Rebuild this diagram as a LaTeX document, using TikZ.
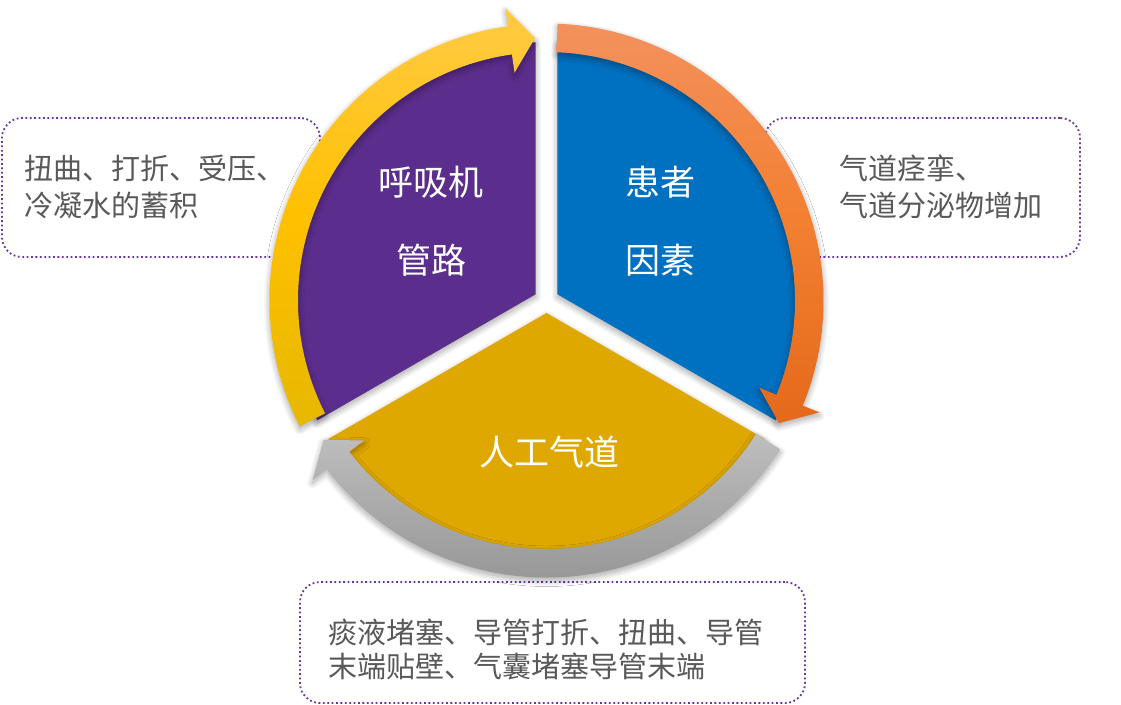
\documentclass[tikz,border=0pt]{standalone}
\usepackage{fontspec}
\newfontfamily\cjk{Noto Sans CJK SC}
\usetikzlibrary{shadows.blur}
\definecolor{ventpurple}{HTML}{5B2D8C}
\definecolor{patblue}{HTML}{0070C0}
\definecolor{airgold}{HTML}{DFA800}
\definecolor{boxline}{HTML}{6A35A0}
\definecolor{notegray}{HTML}{595959}
\definecolor{gold1}{HTML}{FFCB45}
\definecolor{gold2}{HTML}{FFC000}
\definecolor{gold3}{HTML}{E6B800}
\definecolor{orange1}{HTML}{F3915D}
\definecolor{orange2}{HTML}{F37F30}
\definecolor{orange3}{HTML}{E4691B}
\definecolor{gray1}{HTML}{BEBEBE}
\definecolor{gray2}{HTML}{AAAAAA}
\definecolor{gray3}{HTML}{979797}
\begin{document}
\begin{tikzpicture}[x=1pt,y=1pt,line join=round,font=\cjk,
	callout/.style={draw=boxline,fill=white,line width=1.8pt,dash pattern=on 1.8pt off 2.6pt,rounded corners=20pt},
	note/.style={text=notegray,align=left,anchor=west,inner sep=0pt,font=\cjk\fontsize{29}{37}\selectfont},
	wedgetext/.style={text=white,align=center,inner sep=0pt,font=\cjk\fontsize{35}{78}\selectfont},
	soft/.style={blur shadow={shadow xshift=0pt,shadow yshift=-3pt,shadow blur radius=6pt,shadow blur steps=10,shadow opacity=35}}]
	\useasboundingbox (0,0) rectangle (1121,-704);
	\node[callout,minimum width=318pt,minimum height=139pt] (ventbox) at (161,-187.5) {};
	\node[callout,minimum width=315pt,minimum height=139pt] (patbox) at (922.5,-187.5) {};
	\node[callout,minimum width=505pt,minimum height=121pt] (airbox) at (552.5,-642.5) {};
	\node[note] (ventnote) at (24.5,-186.5) {扭曲、打折、受压、\\冷凝水的蓄积};
	\node[note] (patnote) at (839.5,-186.5) {气道痉挛、\\气道分泌物增加};
	\node[note,font=\cjk\fontsize{29}{34}\selectfont] (airnote) at (328.5,-649) {痰液堵塞、导管打折、扭曲、导管\\末端贴壁、气囊堵塞导管末端};
	\coordinate (o) at (546.5,-300.5);
	\fill[ventpurple,soft] (o) ++(150:12.5) -- ++(90:252) arc[start angle=90,end angle=210,radius=252] -- cycle;
	\fill[patblue,soft] (o) ++(30:12.5) -- ++(-30:252) arc[start angle=-30,end angle=90,radius=252] -- cycle;
	\fill[airgold,soft] (o) ++(270:12.5) -- ++(210:252) arc[start angle=210,end angle=330,radius=252] -- cycle;
	\begin{scope}[shift={(o)}]
		\foreach \s/\t/\col in {207/92.5/gold,87.7/-27.8/orange,-32.5/-148/gray}
			\shade[soft,top color=\col1,bottom color=\col3,middle color=\col2] (\s:277) arc[start angle=\s,end angle=\t+5.5,radius=277] -- ({\t+5.5}:295) -- (\t:262.75) -- ({\t+5.5}:230) -- ({\t+5.5}:248.5) arc[start angle=\t+5.5,end angle=\s,radius=248.5] -- cycle;
	\end{scope}
	\node[wedgetext] (vent) at (431,-221) {呼吸机\\管路};
	\node[wedgetext] (patient) at (660,-221) {患者\\因素};
	\node[wedgetext] (airway) at (549.5,-452) {人工气道};
\end{tikzpicture}
\end{document}
